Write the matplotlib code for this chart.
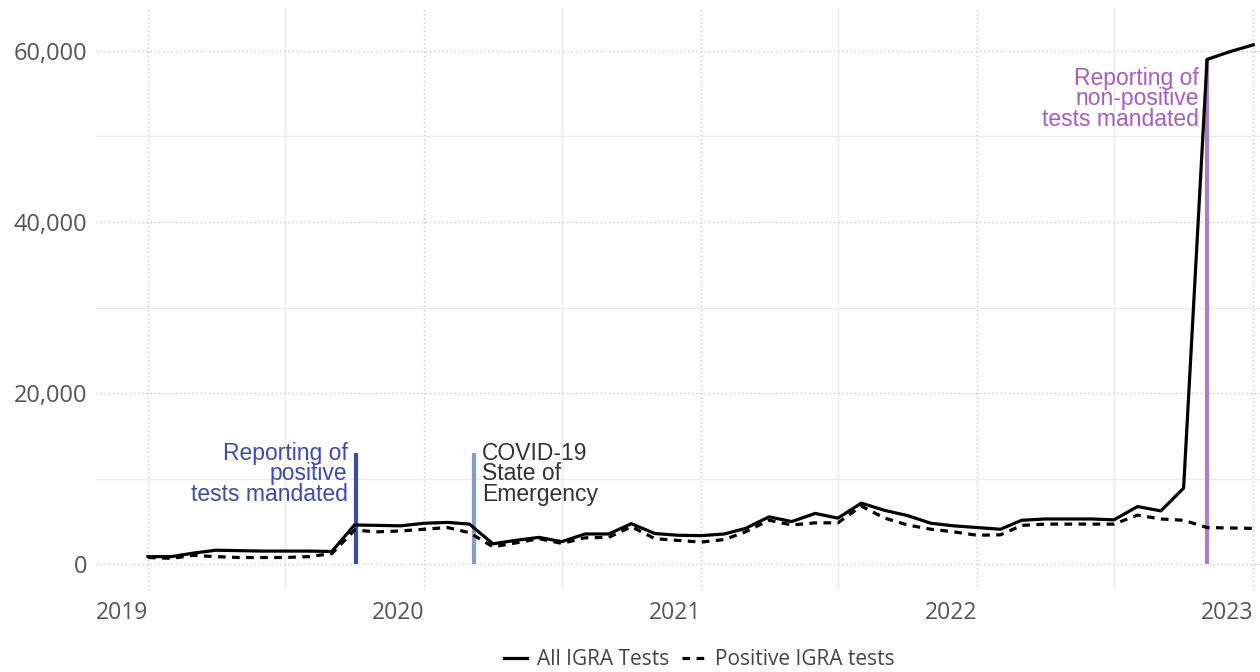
import matplotlib
matplotlib.use("Agg")
import matplotlib.pyplot as plt
import matplotlib.dates as mdates
import pandas as pd

months = pd.date_range("2019-01-01", "2023-01-01", freq="MS")

all_tests = [900, 900, 1300, 1650, 1600, 1550, 1550, 1550, 1500, 4600, 4550, 4500,
             4800, 4900, 4700, 2400, 2800, 3150, 2650, 3550, 3550, 4750, 3600, 3400,
             3350, 3550, 4200, 5550, 5000, 5950, 5400, 7150, 6300, 5700, 4800, 4500,
             4300, 4100, 5150, 5300, 5300, 5300, 5200, 6750, 6250, 8900, 59000, 59900,
             60700]
positive_tests = [800, 700, 1050, 900, 800, 800, 800, 900, 1250, 4000, 3800, 3900,
                  4100, 4300, 3700, 2050, 2500, 3000, 2450, 3100, 3150, 4400, 3000, 2800,
                  2600, 2900, 3800, 5150, 4600, 4850, 4850, 6800, 5400, 4600, 4100, 3800,
                  3400, 3450, 4550, 4700, 4700, 4700, 4700, 5750, 5300, 5150, 4300, 4250,
                  4200]

events = [
    (pd.Timestamp("2019-10-03"), 13000, "Reporting of\npositive\ntests mandated", "#3c4ba8", "#3c4ba8", 14300, "right"),
    (pd.Timestamp("2020-03-07"), 13000, "COVID-19\nState of\nEmergency", "#8a9cc0", "#333333", 14300, "left"),
    (pd.Timestamp("2022-11-01"), 59000, "Reporting of\nnon-positive\ntests mandated", "#b07cc6", "#a45ebf", 58100, "right"),
]

fig = plt.figure(figsize=(12.6, 6.72), dpi=100)
ax = fig.add_axes([0.076, 0.122, 0.924, 0.866])

for x, top, label, line_color, text_color, text_y, ha in events:
    ax.plot([x, x], [0, top], color=line_color, linewidth=3, solid_capstyle="butt", zorder=2)
    dx = -6 if ha == "right" else 6
    ax.annotate(label, xy=(x, text_y), xytext=(dx, 0), textcoords="offset points",
                ha=ha, va="top", color=text_color, fontsize=16.5, linespacing=0.85,
                family="Liberation Sans")

ax.plot(months, all_tests, color="black", linewidth=2.3, label="All IGRA Tests", zorder=3)
ax.plot(months, positive_tests, color="black", linewidth=2.3, linestyle=(0, (2.4, 2)),
        label="Positive IGRA tests", zorder=3)

ax.set_xlim(pd.Timestamp("2018-10-24"), pd.Timestamp("2023-01-10"))
ax.set_ylim(-3000, 65000)

ax.set_yticks([0, 20000, 40000, 60000])
ax.set_yticks([10000, 30000, 50000], minor=True)
ax.yaxis.set_major_formatter(plt.FuncFormatter(lambda v, p: f"{int(v):,}"))
ax.xaxis.set_major_locator(mdates.YearLocator())
ax.xaxis.set_major_formatter(mdates.DateFormatter("%Y"))
ax.xaxis.set_minor_locator(mdates.MonthLocator(bymonth=7))

ax.grid(which="major", color="#c8c8c8", linestyle=(0, (1, 2)), linewidth=1)
ax.grid(which="minor", color="#ebebeb", linestyle="-", linewidth=1)
ax.set_axisbelow(True)

for s in ax.spines.values():
    s.set_visible(False)
ax.tick_params(which="both", length=0)
ax.tick_params(axis="y", pad=6, labelsize=17, labelcolor="#555555")
ax.tick_params(axis="x", pad=8, labelsize=16.5, labelcolor="#555555")
for lbl in ax.get_xticklabels():
    lbl.set_ha("right")
for lbl in ax.get_xticklabels() + ax.get_yticklabels():
    lbl.set_family("Open Sans")

fig.legend(loc="center", bbox_to_anchor=(0.555, 0.018), ncol=2, frameon=False,
           handlelength=1.1, handletextpad=0.5, columnspacing=0.6,
           prop={"family": "Open Sans", "size": 15}, labelcolor="#444444")

fig.savefig("out.png", dpi=100)
